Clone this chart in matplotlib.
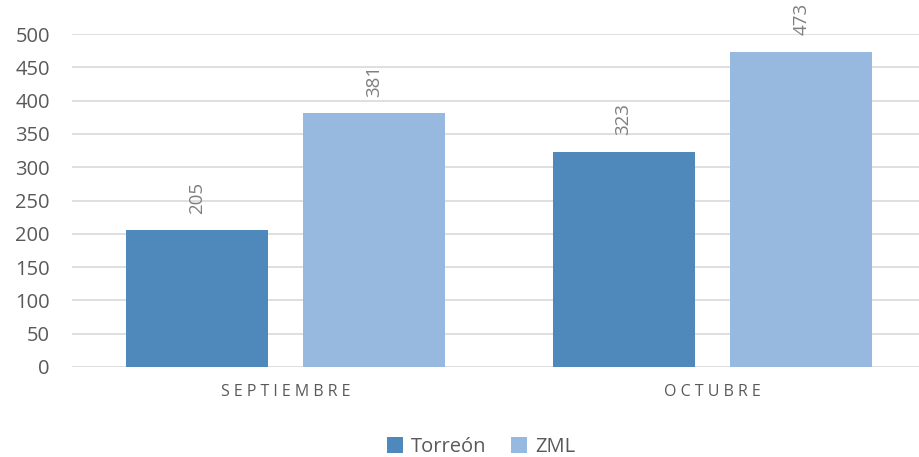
import numpy as np
import matplotlib.pyplot as plt

plt.rcParams['font.family'] = ['Open Sans', 'DejaVu Sans']

months = ['SEPTIEMBRE', 'OCTUBRE']
torreon = [205, 323]
zml = [381, 473]

fig = plt.figure(figsize=(9.2, 4.57), dpi=100)
ax = fig.add_axes([72 / 920, 1 - 367 / 457, 848 / 920, 333 / 457])

x = np.arange(len(months))
w = 0.333
off = 0.208
b1 = ax.bar(x - off, torreon, w, color='#4F88BB', label='Torreón', zorder=2)
b2 = ax.bar(x + off, zml, w, color='#97B8DF', label='ZML', zorder=2)

for bars in (b1, b2):
    for r in bars:
        ax.annotate(f'{int(r.get_height())}', (r.get_x() + r.get_width() / 2, r.get_height()),
                    xytext=(0, 12), textcoords='offset points', rotation=90,
                    ha='center', va='bottom', fontsize=13.5, color='#7F7F7F', annotation_clip=False)

ax.set_xlim(-0.5, 1.486)
ax.set_ylim(0, 500)
ax.set_yticks(range(0, 501, 50))
ax.yaxis.grid(True, color='#D9D9D9', linewidth=1.2, zorder=0)
ax.set_axisbelow(True)
for s in ax.spines.values():
    s.set_visible(False)
ax.tick_params(axis='both', length=0)
ax.tick_params(axis='y', labelsize=14.5, labelcolor='#595959', pad=16)
ax.set_xticks(x)
ax.set_xticklabels([' '.join(m) for m in months], fontsize=11.5, color='#595959')
ax.tick_params(axis='x', pad=12)

fig.legend(loc='center', bbox_to_anchor=(481 / 920, 1 - 447 / 457), ncol=2, frameon=False,
           fontsize=14.5, labelcolor='#595959', handlelength=0.8, handleheight=0.8,
           handletextpad=0.4, columnspacing=1.2)

fig.savefig('out.png', dpi=100)
